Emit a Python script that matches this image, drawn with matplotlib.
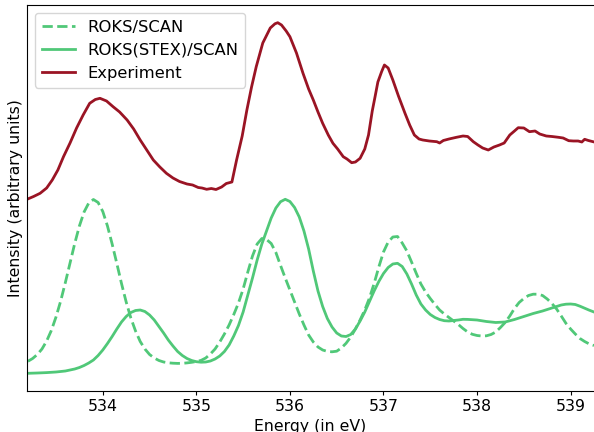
import numpy as np
import matplotlib
matplotlib.use("Agg")
import matplotlib.pyplot as plt

# ROKS/SCAN (dashed green)
roks_e = [533.20, 533.25, 533.30, 533.35, 533.40, 533.45, 533.50, 533.55, 533.60, 533.65,
          533.70, 533.75, 533.80, 533.85, 533.90, 533.95, 534.00, 534.05, 534.10, 534.15,
          534.20, 534.25, 534.30, 534.35, 534.40, 534.45, 534.50, 534.55, 534.60, 534.65,
          534.70, 534.75, 534.80, 534.85, 534.90, 534.95, 535.00, 535.05, 535.10, 535.15,
          535.20, 535.25, 535.30, 535.35, 535.40, 535.45, 535.50, 535.55, 535.60, 535.65,
          535.70, 535.75, 535.80, 535.85, 535.90, 535.95, 536.00, 536.05, 536.10, 536.15,
          536.20, 536.25, 536.30, 536.35, 536.40, 536.45, 536.50, 536.55, 536.60, 536.65,
          536.70, 536.75, 536.80, 536.85, 536.90, 536.95, 537.00, 537.05, 537.10, 537.15,
          537.20, 537.25, 537.30, 537.35, 537.40, 537.45, 537.50, 537.55, 537.60, 537.65,
          537.70, 537.75, 537.80, 537.85, 537.90, 537.95, 538.00, 538.05, 538.10, 538.15,
          538.20, 538.25, 538.30, 538.35, 538.40, 538.45, 538.50, 538.55, 538.60, 538.65,
          538.70, 538.75, 538.80, 538.85, 538.90, 538.95, 539.00, 539.05, 539.10, 539.15,
          539.20, 539.25]
roks_i = [0.297, 0.325, 0.365, 0.420, 0.500, 0.605, 0.740, 0.900, 1.085, 1.280,
          1.475, 1.650, 1.790, 1.880, 1.915, 1.885, 1.795, 1.650, 1.470, 1.275,
          1.075, 0.890, 0.730, 0.600, 0.495, 0.420, 0.365, 0.330, 0.305, 0.290,
          0.282, 0.278, 0.276, 0.277, 0.281, 0.287, 0.295, 0.306, 0.330, 0.370,
          0.420, 0.490, 0.570, 0.660, 0.765, 0.880, 1.020, 1.190, 1.350, 1.470,
          1.525, 1.515, 1.475, 1.385, 1.255, 1.130, 1.010, 0.890, 0.770, 0.660,
          0.560, 0.490, 0.440, 0.410, 0.396, 0.392, 0.398, 0.430, 0.477, 0.540,
          0.620, 0.710, 0.810, 0.930, 1.075, 1.240, 1.390, 1.490, 1.540, 1.545,
          1.480, 1.400, 1.290, 1.177, 1.070, 0.990, 0.925, 0.865, 0.810, 0.770,
          0.735, 0.700, 0.665, 0.625, 0.590, 0.567, 0.555, 0.550, 0.552, 0.565,
          0.590, 0.635, 0.685, 0.750, 0.825, 0.885, 0.925, 0.955, 0.968, 0.968,
          0.955, 0.920, 0.875, 0.820, 0.750, 0.677, 0.620, 0.570, 0.525, 0.495,
          0.470, 0.455]

# ROKS(STEX)/SCAN (solid green)
stex_e = [533.20, 533.30, 533.40, 533.50, 533.60, 533.70, 533.75, 533.80, 533.85, 533.90,
          533.95, 534.00, 534.05, 534.10, 534.15, 534.20, 534.25, 534.30, 534.35, 534.40,
          534.45, 534.50, 534.55, 534.60, 534.65, 534.70, 534.75, 534.80, 534.85, 534.90,
          534.95, 535.00, 535.05, 535.10, 535.15, 535.20, 535.25, 535.30, 535.35, 535.40,
          535.45, 535.50, 535.55, 535.60, 535.65, 535.70, 535.75, 535.80, 535.85, 535.90,
          535.95, 536.00, 536.05, 536.10, 536.15, 536.20, 536.25, 536.30, 536.35, 536.40,
          536.45, 536.50, 536.55, 536.60, 536.65, 536.70, 536.75, 536.80, 536.85, 536.90,
          536.95, 537.00, 537.05, 537.10, 537.15, 537.20, 537.25, 537.30, 537.35, 537.40,
          537.45, 537.50, 537.55, 537.60, 537.65, 537.70, 537.80, 537.85, 537.90, 538.00,
          538.10, 538.20, 538.30, 538.40, 538.50, 538.60, 538.70, 538.80, 538.90, 538.95,
          539.00, 539.05, 539.10, 539.15, 539.20, 539.25]
stex_i = [0.177, 0.180, 0.184, 0.190, 0.200, 0.220, 0.235, 0.255, 0.280, 0.310,
          0.355, 0.410, 0.475, 0.545, 0.620, 0.690, 0.745, 0.785, 0.805, 0.810,
          0.795, 0.760, 0.710, 0.645, 0.580, 0.510, 0.450, 0.395, 0.355, 0.325,
          0.305, 0.293, 0.288, 0.290, 0.300, 0.320, 0.350, 0.395, 0.460, 0.550,
          0.655, 0.790, 0.960, 1.130, 1.310, 1.470, 1.600, 1.730, 1.830, 1.893,
          1.917, 1.895, 1.835, 1.740, 1.600, 1.420, 1.200, 1.000, 0.845, 0.725,
          0.640, 0.580, 0.550, 0.545, 0.565, 0.620, 0.700, 0.790, 0.895, 1.000,
          1.095, 1.175, 1.235, 1.270, 1.277, 1.245, 1.170, 1.070, 0.960, 0.870,
          0.810, 0.765, 0.735, 0.715, 0.703, 0.700, 0.710, 0.717, 0.716, 0.710,
          0.695, 0.685, 0.690, 0.715, 0.745, 0.775, 0.800, 0.830, 0.860, 0.868,
          0.870, 0.865, 0.848, 0.828, 0.808, 0.790]

# Experiment (dark red)
exp_e = [533.19, 533.26, 533.33, 533.40, 533.46, 533.52, 533.58, 533.65, 533.72, 533.79,
         533.86, 533.92, 533.97, 534.04, 534.11, 534.18, 534.26, 534.33, 534.40, 534.47,
         534.54, 534.61, 534.68, 534.75, 534.82, 534.90, 534.96, 535.02, 535.06, 535.11,
         535.16, 535.21, 535.27, 535.32, 535.38, 535.43, 535.49, 535.54, 535.59, 535.64,
         535.71, 535.79, 535.84, 535.87, 535.91, 535.96, 536.00, 536.07, 536.14, 536.20,
         536.25, 536.30, 536.35, 536.41, 536.46, 536.51, 536.57, 536.61, 536.66, 536.70,
         536.75, 536.80, 536.84, 536.88, 536.91, 536.94, 536.98, 537.01, 537.05, 537.10,
         537.16, 537.23, 537.28, 537.33, 537.38, 537.42, 537.49, 537.57, 537.60, 537.64,
         537.70, 537.78, 537.85, 537.90, 537.96, 538.01, 538.06, 538.12, 538.18, 538.24,
         538.29, 538.35, 538.40, 538.44, 538.50, 538.56, 538.62, 538.67, 538.74, 538.80,
         538.87, 538.92, 538.98, 539.03, 539.08, 539.12, 539.15, 539.19, 539.24]
exp_i = [1.917, 1.945, 1.977, 2.030, 2.110, 2.210, 2.343, 2.480, 2.630, 2.760,
         2.877, 2.915, 2.927, 2.900, 2.843, 2.790, 2.710, 2.620, 2.510, 2.410,
         2.310, 2.240, 2.177, 2.130, 2.095, 2.070, 2.060, 2.035, 2.030, 2.017,
         2.025, 2.015, 2.040, 2.075, 2.090, 2.310, 2.550, 2.810, 3.040, 3.243,
         3.480, 3.630, 3.672, 3.683, 3.660, 3.600, 3.543, 3.380, 3.177, 3.020,
         2.910, 2.790, 2.677, 2.560, 2.477, 2.420, 2.343, 2.320, 2.283, 2.290,
         2.327, 2.420, 2.560, 2.800, 2.943, 3.090, 3.193, 3.260, 3.230, 3.110,
         2.950, 2.777, 2.660, 2.560, 2.520, 2.510, 2.500, 2.493, 2.480, 2.505,
         2.520, 2.537, 2.550, 2.545, 2.493, 2.460, 2.430, 2.410, 2.440, 2.460,
         2.480, 2.560, 2.600, 2.633, 2.630, 2.593, 2.600, 2.570, 2.550, 2.545,
         2.537, 2.530, 2.503, 2.500, 2.500, 2.490, 2.517, 2.505, 2.493]

green = '#50c878'
red = '#9a1424'
plt.rcParams['font.size'] = 11.3

fig = plt.figure(figsize=(5.94, 4.32), dpi=100)
ax = fig.add_axes([27/594, 41/432, 567/594, 386/432])

ax.plot(roks_e, roks_i, '--', color=green, lw=2, label='ROKS/SCAN')
ax.plot(stex_e, stex_i, '-', color=green, lw=2, label='ROKS(STEX)/SCAN')
ax.plot(exp_e, exp_i, '-', color=red, lw=2, label='Experiment')

ax.set_xlim(533.19, 539.25)
ax.set_ylim(0, 3.86)
ax.set_xticks([534, 535, 536, 537, 538, 539])
ax.set_yticks([])
ax.tick_params(axis='x', length=3, pad=3)
ax.spines['right'].set_visible(False)
ax.set_xlabel('Energy (in eV)', labelpad=3)
ax.set_ylabel('Intensity (arbitrary units)', labelpad=3)
ax.legend(loc='upper left', fontsize=11.8)

fig.savefig('out.png', dpi=100)
plt.close(fig)
